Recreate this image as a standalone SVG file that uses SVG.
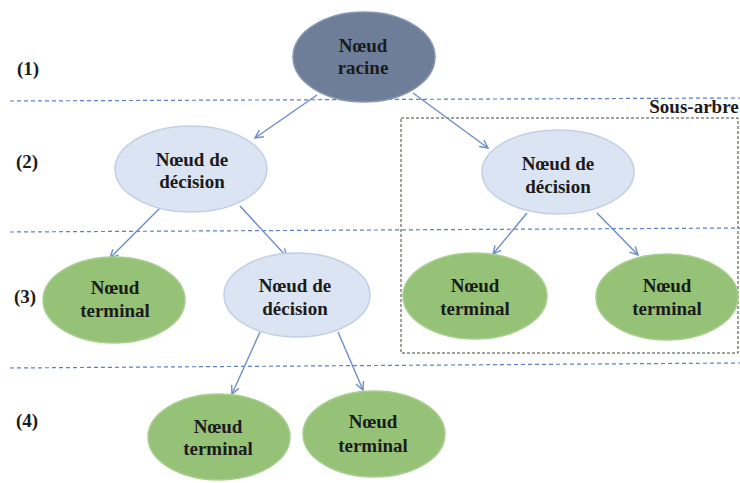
<svg xmlns="http://www.w3.org/2000/svg" width="740" height="483" viewBox="0 0 740 483">
<style>
text{font-family:"Liberation Serif","Times New Roman",serif;font-weight:bold;font-size:19px;fill:#1b1b1b;text-anchor:middle}
.lvl{text-anchor:start}
.sep{stroke:#5d7fc4;stroke-width:1.2;stroke-dasharray:4 3;fill:none}
.root{fill:#6e7e98;stroke:#8a98b0;stroke-width:1.5}
.dec{fill:#dbe4f3;stroke:#c2cfe5;stroke-width:1.5}
.term{fill:#96c278;stroke:#a9cf90;stroke-width:1.5}
.edge{stroke:#6d8ccb;stroke-width:1.4;fill:none;marker-end:url(#arr)}
</style>
<defs>
<marker id="arr" viewBox="0 0 10 10" refX="9" refY="5" markerWidth="10" markerHeight="10" markerUnits="userSpaceOnUse" orient="auto">
<path d="M1,1 L9,5 L1,9" fill="none" stroke="#6d8ccb" stroke-width="1.4"/>
</marker>
</defs>
<rect width="740" height="483" fill="#ffffff"/>
<g id="separators">
<line class="sep" x1="10" y1="101" x2="740" y2="98"/>
<line class="sep" x1="10" y1="232" x2="740" y2="228"/>
<line class="sep" x1="10" y1="368" x2="740" y2="363"/>
</g>
<g id="levels">
<text class="lvl" x="17" y="75">(1)</text>
<text class="lvl" x="16" y="168">(2)</text>
<text class="lvl" x="14" y="303">(3)</text>
<text class="lvl" x="16" y="427">(4)</text>
</g>
<g id="subtree">
<rect x="401" y="118" width="337" height="235" fill="none" stroke="#3d4a30" stroke-width="1" stroke-dasharray="3 2"/>
<text x="694" y="113">Sous-arbre</text>
</g>
<g id="connectors">
<line class="edge" x1="317" y1="95" x2="255" y2="138"/>
<line class="edge" x1="413" y1="93" x2="488" y2="148"/>
<line class="edge" x1="162" y1="206" x2="110" y2="258"/>
<line class="edge" x1="240" y1="206" x2="287" y2="257"/>
<line class="edge" x1="260" y1="332" x2="232" y2="394"/>
<line class="edge" x1="338" y1="332" x2="363" y2="390"/>
<line class="edge" x1="527" y1="213" x2="493" y2="254"/>
<line class="edge" x1="597" y1="213" x2="638" y2="255"/>
</g>
<g id="root">
<ellipse class="root" cx="364" cy="57" rx="71" ry="45"/>
<text x="363" y="52">Nœud</text>
<text x="363" y="74">racine</text>
</g>
<g id="decision-left">
<ellipse class="dec" cx="191" cy="169" rx="76" ry="43"/>
<text x="192" y="166">Nœud de</text>
<text x="192" y="188">décision</text>
</g>
<g id="decision-right">
<ellipse class="dec" cx="558" cy="172" rx="76" ry="42"/>
<text x="558" y="170">Nœud de</text>
<text x="558" y="193">décision</text>
</g>
<g id="terminal-3a">
<ellipse class="term" cx="114" cy="300" rx="71" ry="43"/>
<text x="115" y="294">Nœud</text>
<text x="115" y="317">terminal</text>
</g>
<g id="decision-mid">
<ellipse class="dec" cx="297" cy="295" rx="73" ry="42"/>
<text x="295" y="292">Nœud de</text>
<text x="295" y="315">décision</text>
</g>
<g id="terminal-3b">
<ellipse class="term" cx="475" cy="296" rx="72" ry="43"/>
<text x="475" y="292">Nœud</text>
<text x="475" y="315">terminal</text>
</g>
<g id="terminal-3c">
<ellipse class="term" cx="667" cy="297" rx="71" ry="43"/>
<text x="667" y="292">Nœud</text>
<text x="667" y="315">terminal</text>
</g>
<g id="terminal-4a">
<ellipse class="term" cx="219" cy="437" rx="71" ry="43"/>
<text x="218" y="433">Nœud</text>
<text x="218" y="455">terminal</text>
</g>
<g id="terminal-4b">
<ellipse class="term" cx="374" cy="434" rx="71" ry="43"/>
<text x="373" y="428">Nœud</text>
<text x="373" y="452">terminal</text>
</g>
</svg>
